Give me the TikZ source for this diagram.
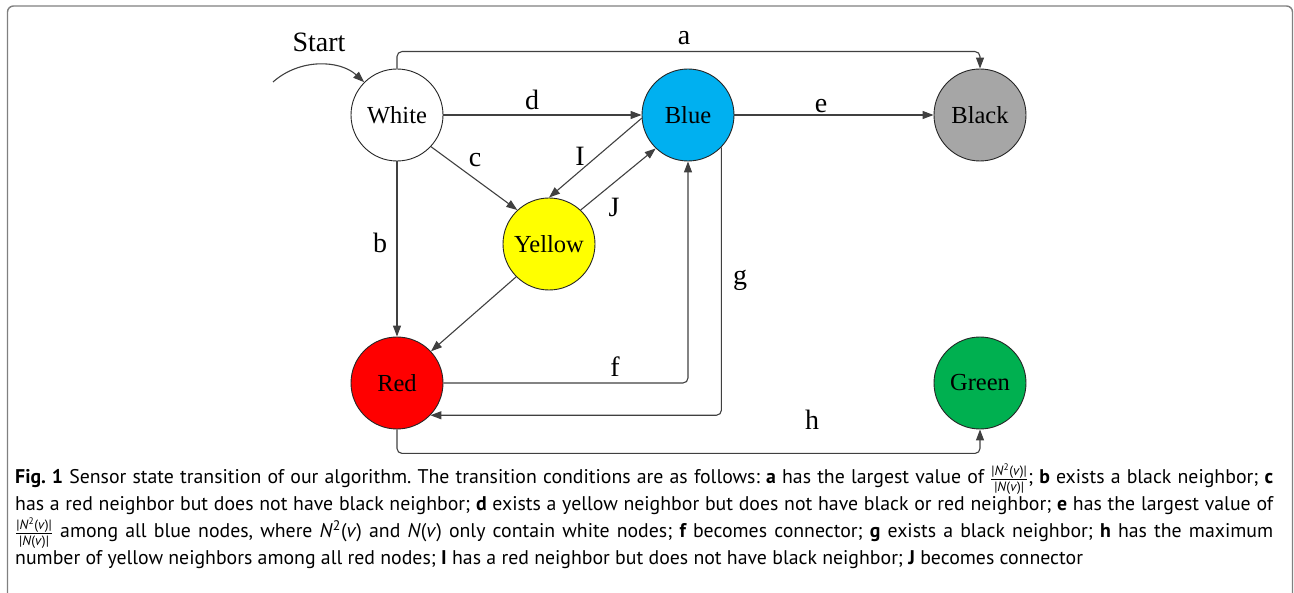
\documentclass[tikz,border=0pt]{standalone}
\usepackage{fontspec}
\setmainfont{Liberation Serif}
\newfontfamily\capfont{PT Sans}
\usetikzlibrary{arrows.meta}
\definecolor{stBlue}{HTML}{00B0F0}
\definecolor{stBlack}{HTML}{A6A6A6}
\definecolor{stYellow}{HTML}{FFFF00}
\definecolor{stRed}{HTML}{FF0000}
\definecolor{stGreen}{HTML}{00B050}
\definecolor{edgecol}{HTML}{404040}
\definecolor{framecol}{HTML}{808080}
% ratio |N^2(v)| / |N(v)| in the caption
\newcommand{\nratio}{\ensuremath{\frac{\mbox{\fontsize{13.5}{13.5}\selectfont|\textit{N}\textsuperscript{2}(\textit{v})|}}{\mbox{\fontsize{13.5}{13.5}\selectfont|\textit{N}(\textit{v})|}}}}
\begin{document}
\begin{tikzpicture}[x=1pt,y=-1pt,
  state/.style={circle, draw=black!85, line width=0.9pt, minimum size=92pt,
    inner sep=0pt, font=\fontsize{24.5}{26}\selectfont},
  conn/.style={draw=edgecol, line width=1.1pt, -{Triangle[length=11pt,width=8pt]}},
  lbl/.style={font=\fontsize{28}{30}\selectfont, anchor=base, inner sep=0pt},
  frame/.style={draw=framecol, line width=1.4pt, rounded corners=6pt}]
\useasboundingbox (0,0) rectangle (1294,593);
\begin{scope}
  \clip (0,0) rectangle (1294,593);
  \draw[frame] (7.5,6) rectangle (1292.5,640);
\end{scope}

% states
\node[state, fill=white]    (White)  at (397,115) {White};
\node[state, fill=stBlue]   (Blue)   at (688,115) {Blue};
\node[state, fill=stBlack]  (Black)  at (980,115) {Black};
\node[state, fill=stYellow] (Yellow) at (549,244) {Yellow};
\node[state, fill=stRed]    (Red)    at (397,383) {Red};
\node[state, fill=stGreen]  (Green)  at (980,383) {Green};

% start arrow
\coordinate (s0) at (273,82);
\draw[conn] (s0) .. controls (300,58) and (340,60) .. (White.135);
\node[lbl] (lStart) at (319,52) {Start};

% transitions
\draw[conn, rounded corners=5pt] (White.north) -- ++(0,-17) -| (Black.north);
\draw[conn] (White) -- (Blue);
\draw[conn] (Blue) -- (Black);
\draw[conn] (White.-43) -- (Yellow.133);
\draw[conn] (Blue.184) -- (Yellow.north);
\draw[conn] (Yellow.47) -- (Blue.226);
\draw[conn] (White) -- (Red);
\draw[conn] (Yellow.225) -- (Red.43);
\draw[conn, rounded corners=5pt] (Red.east) -| (Blue.south);
\draw[conn, rounded corners=5pt] (Blue.-44) |- (Red.-44);
\draw[conn, rounded corners=5pt] (Red.south) -- ++(0,24) -| (Green.south);

% transition labels
\node[lbl] (la) at (684,45) {a};
\node[lbl] (ld) at (532,110) {d};
\node[lbl] (le) at (821,113) {e};
\node[lbl] (lc) at (475,167) {c};
\node[lbl] (lI) at (580,166) {I};
\node[lbl] (lJ) at (614,217) {J};
\node[lbl] (lb) at (380,253) {b};
\node[lbl] (lg) at (740,285) {g};
\node[lbl] (lf) at (615,377) {f};
\node[lbl] (lh) at (812,430) {h};

% caption
\node[anchor=base west, inner sep=0pt, text width=1258pt, align=justify,
  font=\capfont\fontsize{19.8}{27}\selectfont\frenchspacing] (cap) at (15,484)
{{\bfseries Fig. 1} Sensor state transition of our algorithm. The transition conditions are as follows: {\bfseries a} has the largest value of \nratio; {\bfseries b} exists a black neighbor; {\bfseries c}\linebreak
has a red neighbor but does not have black neighbor; {\bfseries d} exists a yellow neighbor but does not have black or red neighbor; {\bfseries e} has the largest value of\linebreak
\nratio{} among all blue nodes, where \textit{N}\textsuperscript{2}(\textit{v}) and \textit{N}(\textit{v}) only contain white nodes; {\bfseries f} becomes connector; {\bfseries g} exists a black neighbor; {\bfseries h} has the maximum\linebreak
number of yellow neighbors among all red nodes; {\bfseries I} has a red neighbor but does not have black neighbor; {\bfseries J} becomes connector};
\end{tikzpicture}
\end{document}
